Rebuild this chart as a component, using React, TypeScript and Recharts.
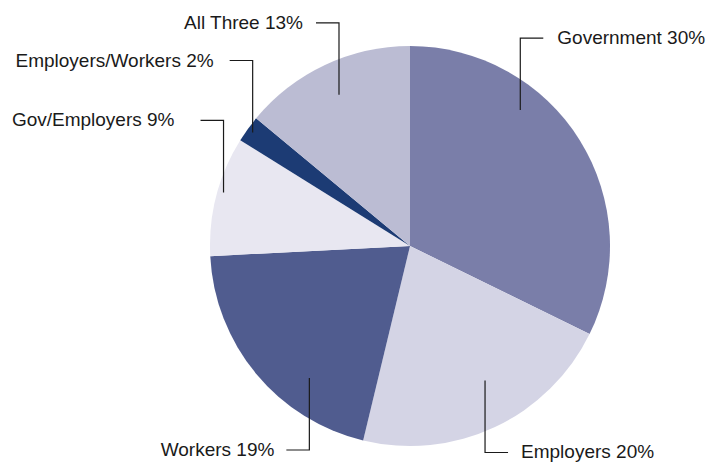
import { PieChart, Pie, Cell } from "recharts";

// ── Data ────────────────────────────────────────────────────────────────
const groups = ["Government", "Employers", "Workers", "Gov/Employers", "Employers/Workers", "All Three"];
const shares = [30, 20, 19, 9, 2, 13];
const colors = ["#7a7ea9", "#d4d4e5", "#505c8f", "#e8e7f1", "#1c3b74", "#bbbcd3"];

// leader line layout: angle shift from slice middle (deg, clockwise), radius fraction, text gap
const anchorShift = [-19, -4, -13, 1.5, 0, 0];
const anchorRadius = [0.875, 0.77, 0.83, 0.97, 0.97, 0.835];
const textGap = [14, 13, 12, 26, 16, 13];

const data = groups.map((name, i) => ({ name, value: shares[i] }));

const RAD = Math.PI / 180;

function renderLabel(props: any) {
  const { cx, cy, midAngle, outerRadius, index, name, value } = props;
  // clockwise from 12 o'clock
  const theta = (90 - midAngle + anchorShift[index]) * RAD;
  const r = outerRadius * anchorRadius[index];
  const ax = cx + r * Math.sin(theta);
  const ay = cy - r * Math.cos(theta);
  const up = ay < cy;
  const right = ax > cx;
  const ey = up ? ay - 72 : ay + 72;
  const hx = right ? ax + 23 : ax - 23;
  const tx = right ? hx + textGap[index] : hx - textGap[index];
  return (
    <g key={`lbl-${index}`}>
      <polyline
        points={`${ax},${ay} ${ax},${ey} ${hx},${ey}`}
        fill="none"
        stroke="#1a1a1a"
        strokeWidth={1.2}
      />
      <text
        x={tx}
        y={ey + 6}
        textAnchor={right ? "start" : "end"}
        fill="#1a1a1a"
        fontSize={19}
        fontFamily="'Liberation Sans', Arial, sans-serif"
      >
        {`${name} ${value}%`}
      </text>
    </g>
  );
}

export default function App() {
  return (
    <div style={{ position: "absolute", left: 0, top: 0, width: 708, height: 464, background: "#fff" }}>
      <PieChart width={708} height={464} margin={{ top: 0, right: 0, bottom: 0, left: 0 }}>
        <Pie
          data={data}
          dataKey="value"
          nameKey="name"
          cx={410}
          cy={246}
          outerRadius={200}
          startAngle={90}
          endAngle={-270}
          stroke="none"
          label={renderLabel}
          labelLine={false}
          isAnimationActive={false}
        >
          {data.map((d, i) => (
            <Cell key={d.name} fill={colors[i]} />
          ))}
        </Pie>
      </PieChart>
    </div>
  );
}
